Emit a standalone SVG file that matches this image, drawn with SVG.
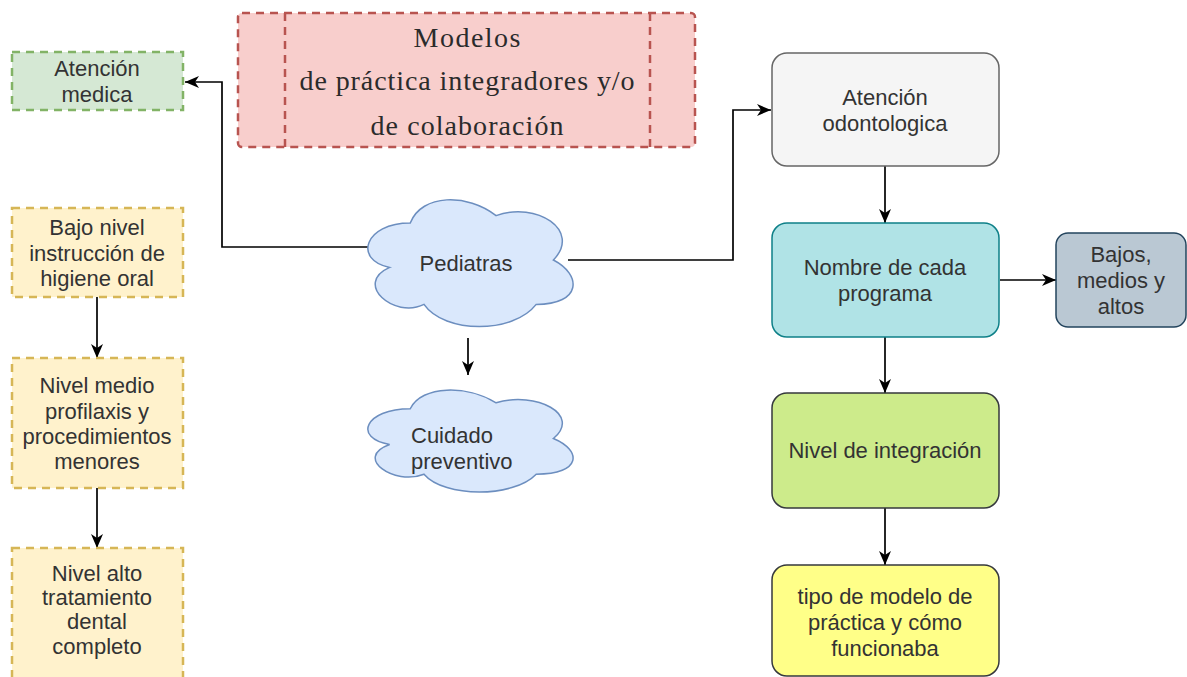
<svg xmlns="http://www.w3.org/2000/svg" width="1187" height="677" viewBox="0 0 1187 677">
<defs>
<marker id="arr" markerUnits="userSpaceOnUse" markerWidth="16" markerHeight="14" refX="14" refY="6" orient="auto">
<path d="M0,0 L14,6 L0,12 L4,6 Z" fill="#000"/>
</marker>
<style>
.t{font-family:"Liberation Sans",Arial,sans-serif;font-size:22px;fill:#333;text-anchor:middle}
.s{font-family:"Liberation Serif","Times New Roman",serif;font-size:28px;fill:#2b2b2b;text-anchor:middle}
.dash{stroke-width:2.5;stroke-dasharray:8 6}
.rnd{stroke-width:1.5}
.c{fill:none;stroke:#000;stroke-width:1.7;marker-end:url(#arr)}
</style>
</defs>
<rect width="1187" height="677" fill="#fff"/>

<g id="connectors">
<path class="c" d="M370,247 H222 V82 H185"/>
<path class="c" d="M568,260 H733 V110 H771"/>
<path class="c" d="M468,338 V375"/>
<path class="c" d="M97,297 V358"/>
<path class="c" d="M97,488 V548"/>
<path class="c" d="M885,166 V223"/>
<path class="c" d="M1000,280 H1056"/>
<path class="c" d="M885,337 V393"/>
<path class="c" d="M885,508 V565"/>
</g>

<g id="atencion-medica">
<rect x="12" y="52" width="171" height="58" fill="#d5e8d4" stroke="#82b366" class="dash"/>
<text class="t" x="97" y="76">Atención</text>
<text class="t" x="97" y="102">medica</text>
</g>

<g id="modelos">
<rect x="238" y="13" width="457" height="134" rx="4" fill="#f8cecc" stroke="#b85450" class="dash"/>
<line x1="285" y1="13" x2="285" y2="147" stroke="#b85450" class="dash"/>
<line x1="650" y1="13" x2="650" y2="147" stroke="#b85450" class="dash"/>
<text class="s" x="467" y="47" textLength="107" lengthAdjust="spacing">Modelos</text>
<text class="s" x="467" y="90" textLength="335" lengthAdjust="spacing">de práctica integradores y/o</text>
<text class="s" x="467" y="135" textLength="193" lengthAdjust="spacing">de colaboración</text>
</g>

<g id="bajo-nivel">
<rect x="12" y="208" width="171" height="89" fill="#fff2cc" stroke="#d6b656" class="dash"/>
<text class="t" x="97" y="235">Bajo nivel</text>
<text class="t" x="97" y="261">instrucción de</text>
<text class="t" x="97" y="286">higiene oral</text>
</g>

<g id="nivel-medio">
<rect x="12" y="358" width="171" height="130" fill="#fff2cc" stroke="#d6b656" class="dash"/>
<text class="t" x="97" y="393">Nivel medio</text>
<text class="t" x="97" y="419">profilaxis y</text>
<text class="t" x="97" y="444">procedimientos</text>
<text class="t" x="97" y="469">menores</text>
</g>

<g id="nivel-alto">
<rect x="12" y="548" width="171" height="132" fill="#fff2cc" stroke="#d6b656" class="dash"/>
<text class="t" x="97" y="581">Nivel alto</text>
<text class="t" x="97" y="605">tratamiento</text>
<text class="t" x="97" y="629">dental</text>
<text class="t" x="97" y="654">completo</text>
</g>

<g id="pediatras">
<path d="M410.25,223 C364.45,223 353,260 389.64,267.4 C353,283.68 394.22,319.2 423.99,304.4 C444.6,334 513.3,334 536.2,304.4 C582,304.4 582,274.8 553.4,260 C582,230.4 536.2,200.8 496.1,215.6 C467.5,193.4 421.7,193.4 410.25,223 Z" fill="#dae8fc" stroke="#6c8ebf" stroke-width="1.5"/>
<text class="t" x="466" y="271">Pediatras</text>
</g>

<g id="cuidado-preventivo">
<path d="M410.25,408.75 C364.45,408.75 353,438.5 389.64,444.45 C353,457.54 394.22,486.1 423.99,474.2 C444.6,498 513.3,498 536.2,474.2 C582,474.2 582,450.4 553.4,438.5 C582,414.7 536.2,390.9 496.1,402.8 C467.5,384.95 421.7,384.95 410.25,408.75 Z" fill="#dae8fc" stroke="#6c8ebf" stroke-width="1.5"/>
<text class="t" x="411" y="443" style="text-anchor:start">Cuidado</text>
<text class="t" x="411" y="469" style="text-anchor:start">preventivo</text>
</g>

<g id="atencion-odontologica">
<rect x="772" y="53" width="227" height="113" rx="15" fill="#f5f5f5" stroke="#666666" class="rnd"/>
<text class="t" x="885" y="105">Atención</text>
<text class="t" x="885" y="131">odontologica</text>
</g>

<g id="nombre-programa">
<rect x="772" y="223" width="227" height="114" rx="15" fill="#b0e3e6" stroke="#0e8088" class="rnd"/>
<text class="t" x="885" y="275">Nombre de cada</text>
<text class="t" x="885" y="301">programa</text>
</g>

<g id="bajos-medios-altos">
<rect x="1056" y="233" width="130" height="94" rx="12" fill="#bac8d3" stroke="#23445d" class="rnd"/>
<text class="t" x="1121" y="262">Bajos,</text>
<text class="t" x="1121" y="288">medios y</text>
<text class="t" x="1121" y="314">altos</text>
</g>

<g id="nivel-integracion">
<rect x="772" y="393" width="227" height="115" rx="15" fill="#cdeb8b" stroke="#36393d" class="rnd"/>
<text class="t" x="885" y="458">Nivel de integración</text>
</g>

<g id="tipo-modelo">
<rect x="772" y="565" width="227" height="111" rx="15" fill="#ffff88" stroke="#36393d" class="rnd"/>
<text class="t" x="885" y="604">tipo de modelo de</text>
<text class="t" x="885" y="630">práctica y cómo</text>
<text class="t" x="885" y="656">funcionaba</text>
</g>
</svg>
